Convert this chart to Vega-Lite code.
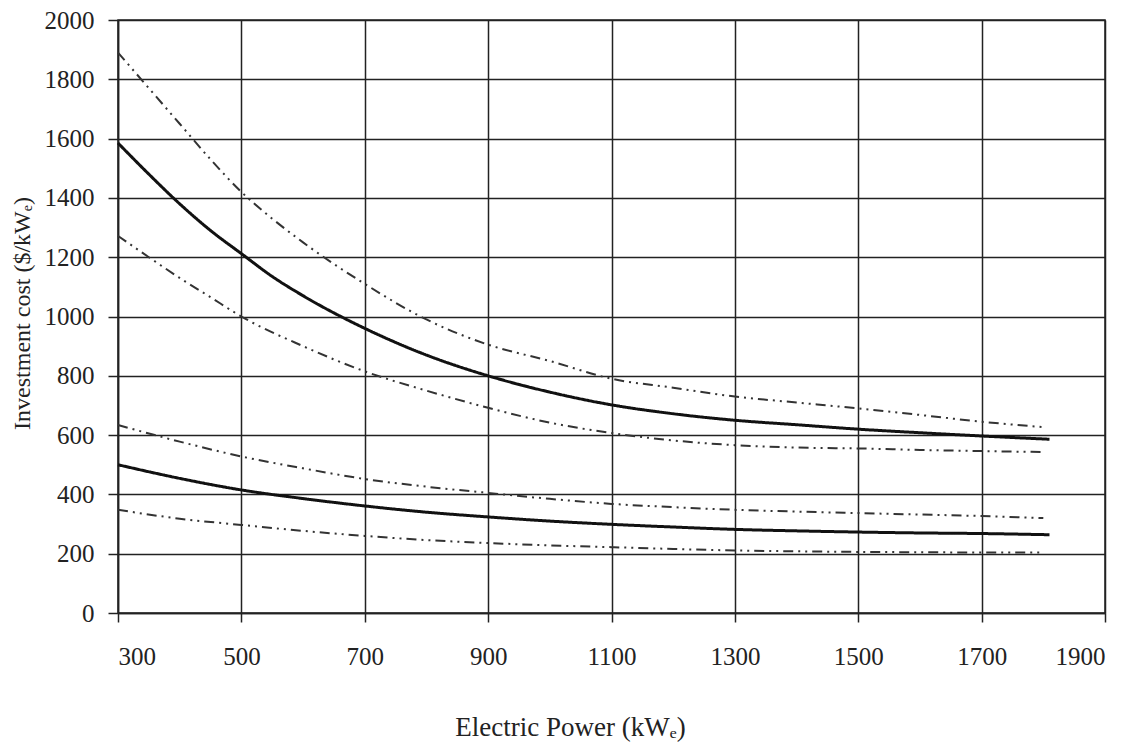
{
  "$schema": "https://vega.github.io/schema/vega-lite/v6.json",
  "width": 987,
  "height": 593,
  "autosize": "none",
  "padding": {"left": 118, "top": 20, "right": 38, "bottom": 129},
  "background": "white",
  "config": {
    "view": {"stroke": "#222", "strokeWidth": 1.5},
    "axis": {"labelFont": "Liberation Serif", "titleFont": "Liberation Serif", "labelColor": "#222", "titleColor": "#222", "labelFontSize": 25, "titleFontSize": 27, "titleFontWeight": "normal", "gridColor": "#222", "gridOpacity": 1, "gridWidth": 1.5, "domainColor": "#222", "domainWidth": 1.5, "tickColor": "#222", "tickWidth": 1.5, "tickSize": 9}
  },
  "data": {"values": [
    {"x": 300, "y": 1890, "series": "A_hi", "style": "dashdot"},
    {"x": 350, "y": 1770, "series": "A_hi", "style": "dashdot"},
    {"x": 400, "y": 1650, "series": "A_hi", "style": "dashdot"},
    {"x": 450, "y": 1530, "series": "A_hi", "style": "dashdot"},
    {"x": 500, "y": 1420, "series": "A_hi", "style": "dashdot"},
    {"x": 550, "y": 1330, "series": "A_hi", "style": "dashdot"},
    {"x": 600, "y": 1250, "series": "A_hi", "style": "dashdot"},
    {"x": 700, "y": 1110, "series": "A_hi", "style": "dashdot"},
    {"x": 800, "y": 990, "series": "A_hi", "style": "dashdot"},
    {"x": 900, "y": 905, "series": "A_hi", "style": "dashdot"},
    {"x": 1000, "y": 850, "series": "A_hi", "style": "dashdot"},
    {"x": 1100, "y": 790, "series": "A_hi", "style": "dashdot"},
    {"x": 1200, "y": 760, "series": "A_hi", "style": "dashdot"},
    {"x": 1300, "y": 730, "series": "A_hi", "style": "dashdot"},
    {"x": 1400, "y": 710, "series": "A_hi", "style": "dashdot"},
    {"x": 1500, "y": 690, "series": "A_hi", "style": "dashdot"},
    {"x": 1600, "y": 668, "series": "A_hi", "style": "dashdot"},
    {"x": 1700, "y": 645, "series": "A_hi", "style": "dashdot"},
    {"x": 1800, "y": 627, "series": "A_hi", "style": "dashdot"},

    {"x": 300, "y": 1585, "series": "A_mid", "style": "solid"},
    {"x": 350, "y": 1480, "series": "A_mid", "style": "solid"},
    {"x": 400, "y": 1380, "series": "A_mid", "style": "solid"},
    {"x": 450, "y": 1290, "series": "A_mid", "style": "solid"},
    {"x": 500, "y": 1212, "series": "A_mid", "style": "solid"},
    {"x": 550, "y": 1135, "series": "A_mid", "style": "solid"},
    {"x": 600, "y": 1070, "series": "A_mid", "style": "solid"},
    {"x": 700, "y": 960, "series": "A_mid", "style": "solid"},
    {"x": 800, "y": 870, "series": "A_mid", "style": "solid"},
    {"x": 900, "y": 800, "series": "A_mid", "style": "solid"},
    {"x": 1000, "y": 745, "series": "A_mid", "style": "solid"},
    {"x": 1100, "y": 702, "series": "A_mid", "style": "solid"},
    {"x": 1200, "y": 672, "series": "A_mid", "style": "solid"},
    {"x": 1300, "y": 650, "series": "A_mid", "style": "solid"},
    {"x": 1400, "y": 635, "series": "A_mid", "style": "solid"},
    {"x": 1500, "y": 620, "series": "A_mid", "style": "solid"},
    {"x": 1600, "y": 608, "series": "A_mid", "style": "solid"},
    {"x": 1700, "y": 597, "series": "A_mid", "style": "solid"},
    {"x": 1810, "y": 586, "series": "A_mid", "style": "solid"},

    {"x": 300, "y": 1272, "series": "A_lo", "style": "dashdot"},
    {"x": 350, "y": 1200, "series": "A_lo", "style": "dashdot"},
    {"x": 400, "y": 1130, "series": "A_lo", "style": "dashdot"},
    {"x": 450, "y": 1065, "series": "A_lo", "style": "dashdot"},
    {"x": 500, "y": 1000, "series": "A_lo", "style": "dashdot"},
    {"x": 600, "y": 900, "series": "A_lo", "style": "dashdot"},
    {"x": 700, "y": 815, "series": "A_lo", "style": "dashdot"},
    {"x": 800, "y": 750, "series": "A_lo", "style": "dashdot"},
    {"x": 900, "y": 692, "series": "A_lo", "style": "dashdot"},
    {"x": 1000, "y": 642, "series": "A_lo", "style": "dashdot"},
    {"x": 1100, "y": 607, "series": "A_lo", "style": "dashdot"},
    {"x": 1200, "y": 582, "series": "A_lo", "style": "dashdot"},
    {"x": 1300, "y": 566, "series": "A_lo", "style": "dashdot"},
    {"x": 1400, "y": 558, "series": "A_lo", "style": "dashdot"},
    {"x": 1500, "y": 555, "series": "A_lo", "style": "dashdot"},
    {"x": 1600, "y": 550, "series": "A_lo", "style": "dashdot"},
    {"x": 1700, "y": 546, "series": "A_lo", "style": "dashdot"},
    {"x": 1800, "y": 543, "series": "A_lo", "style": "dashdot"},

    {"x": 300, "y": 634, "series": "B_hi", "style": "dashdot"},
    {"x": 400, "y": 578, "series": "B_hi", "style": "dashdot"},
    {"x": 500, "y": 528, "series": "B_hi", "style": "dashdot"},
    {"x": 600, "y": 488, "series": "B_hi", "style": "dashdot"},
    {"x": 700, "y": 452, "series": "B_hi", "style": "dashdot"},
    {"x": 800, "y": 426, "series": "B_hi", "style": "dashdot"},
    {"x": 900, "y": 405, "series": "B_hi", "style": "dashdot"},
    {"x": 1000, "y": 385, "series": "B_hi", "style": "dashdot"},
    {"x": 1100, "y": 368, "series": "B_hi", "style": "dashdot"},
    {"x": 1200, "y": 357, "series": "B_hi", "style": "dashdot"},
    {"x": 1300, "y": 348, "series": "B_hi", "style": "dashdot"},
    {"x": 1400, "y": 342, "series": "B_hi", "style": "dashdot"},
    {"x": 1500, "y": 337, "series": "B_hi", "style": "dashdot"},
    {"x": 1600, "y": 332, "series": "B_hi", "style": "dashdot"},
    {"x": 1700, "y": 327, "series": "B_hi", "style": "dashdot"},
    {"x": 1800, "y": 320, "series": "B_hi", "style": "dashdot"},

    {"x": 300, "y": 500, "series": "B_mid", "style": "solid"},
    {"x": 400, "y": 454, "series": "B_mid", "style": "solid"},
    {"x": 500, "y": 415, "series": "B_mid", "style": "solid"},
    {"x": 600, "y": 386, "series": "B_mid", "style": "solid"},
    {"x": 700, "y": 361, "series": "B_mid", "style": "solid"},
    {"x": 800, "y": 340, "series": "B_mid", "style": "solid"},
    {"x": 900, "y": 324, "series": "B_mid", "style": "solid"},
    {"x": 1000, "y": 310, "series": "B_mid", "style": "solid"},
    {"x": 1100, "y": 299, "series": "B_mid", "style": "solid"},
    {"x": 1200, "y": 290, "series": "B_mid", "style": "solid"},
    {"x": 1300, "y": 282, "series": "B_mid", "style": "solid"},
    {"x": 1400, "y": 277, "series": "B_mid", "style": "solid"},
    {"x": 1500, "y": 273, "series": "B_mid", "style": "solid"},
    {"x": 1600, "y": 270, "series": "B_mid", "style": "solid"},
    {"x": 1700, "y": 268, "series": "B_mid", "style": "solid"},
    {"x": 1810, "y": 264, "series": "B_mid", "style": "solid"},

    {"x": 300, "y": 348, "series": "B_lo", "style": "dashdot"},
    {"x": 400, "y": 318, "series": "B_lo", "style": "dashdot"},
    {"x": 500, "y": 297, "series": "B_lo", "style": "dashdot"},
    {"x": 600, "y": 277, "series": "B_lo", "style": "dashdot"},
    {"x": 700, "y": 260, "series": "B_lo", "style": "dashdot"},
    {"x": 800, "y": 246, "series": "B_lo", "style": "dashdot"},
    {"x": 900, "y": 236, "series": "B_lo", "style": "dashdot"},
    {"x": 1000, "y": 228, "series": "B_lo", "style": "dashdot"},
    {"x": 1100, "y": 222, "series": "B_lo", "style": "dashdot"},
    {"x": 1200, "y": 216, "series": "B_lo", "style": "dashdot"},
    {"x": 1300, "y": 211, "series": "B_lo", "style": "dashdot"},
    {"x": 1400, "y": 208, "series": "B_lo", "style": "dashdot"},
    {"x": 1500, "y": 206, "series": "B_lo", "style": "dashdot"},
    {"x": 1600, "y": 205, "series": "B_lo", "style": "dashdot"},
    {"x": 1700, "y": 204, "series": "B_lo", "style": "dashdot"},
    {"x": 1800, "y": 204, "series": "B_lo", "style": "dashdot"}
  ]},
  "mark": {"type": "line", "interpolate": "monotone", "strokeCap": "butt"},
  "encoding": {
    "x": {
      "field": "x", "type": "quantitative",
      "scale": {"domain": [300, 1900], "nice": false, "zero": false},
      "axis": {"values": [300, 500, 700, 900, 1100, 1300, 1500, 1700, 1900], "format": "d", "title": "Electric Power (kWₑ)", "labelPadding": 22, "titleX": 452, "titleY": 122, "titleAnchor": "start", "titleAlign": "center", "titleBaseline": "alphabetic"}
    },
    "y": {
      "field": "y", "type": "quantitative",
      "scale": {"domain": [0, 2000], "nice": false},
      "axis": {"values": [0, 200, 400, 600, 800, 1000, 1200, 1400, 1600, 1800, 2000], "format": "d", "title": "Investment cost ($/kWₑ)", "titleFontSize": 24, "tickSize": 10, "labelPadding": 14, "titleX": -96, "titleY": 293, "titleAlign": "center", "titleBaseline": "middle"}
    },
    "detail": {"field": "series"},
    "strokeDash": {"field": "style", "type": "nominal", "scale": {"domain": ["solid", "dashdot"], "range": [[1, 0], [10, 5, 2, 5, 2, 5]]}, "legend": null},
    "strokeWidth": {"field": "style", "type": "nominal", "scale": {"domain": ["solid", "dashdot"], "range": [3, 2]}, "legend": null},
    "color": {"field": "style", "type": "nominal", "scale": {"domain": ["solid", "dashdot"], "range": ["#111111", "#333333"]}, "legend": null}
  }
}
